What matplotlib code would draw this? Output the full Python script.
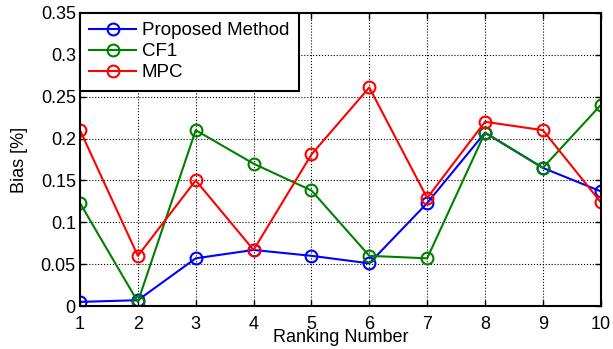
import numpy as np
import matplotlib.pyplot as plt

plt.rcParams['font.family'] = ['Liberation Sans', 'DejaVu Sans']

# ranking numbers and bias values
ranking = np.arange(1, 11)
proposed = [0.005, 0.007, 0.057, 0.067, 0.060, 0.051, 0.123, 0.207, 0.165, 0.137]
cf1 = [0.123, 0.005, 0.210, 0.170, 0.138, 0.060, 0.057, 0.207, 0.165, 0.240]
mpc = [0.210, 0.060, 0.150, 0.067, 0.181, 0.261, 0.129, 0.220, 0.210, 0.124]

fig = plt.figure(figsize=(6.13, 3.49), dpi=100)
ax = fig.add_axes([0.1305, 0.123, 0.8495, 0.840])

style = dict(marker='o', markerfacecolor='none', markersize=8.5, markeredgewidth=1.5, linewidth=1.5)
ax.plot(ranking, proposed, color='#0000ff', label='Proposed Method', **style)
ax.plot(ranking, cf1, color='#008000', label='CF1', **style)
ax.plot(ranking, mpc, color='#ff0000', label='MPC', **style)

ax.set_xlim(1, 10)
ax.set_ylim(0, 0.35)
ax.set_xticks(ranking)
ax.set_yticks(np.arange(0, 0.351, 0.05))
ax.set_yticklabels(['0', '0.05', '0.1', '0.15', '0.2', '0.25', '0.3', '0.35'])
ax.grid(True, color='black', linestyle=':', linewidth=0.8)
ax.tick_params(direction='in', top=True, right=True, labelsize=13, length=4, width=1, pad=3)
ax.tick_params(axis='x', pad=7)
for sp in ax.spines.values():
    sp.set_linewidth(1.5)
ax.set_xlabel('Ranking Number', fontsize=13, labelpad=-3)
ax.set_ylabel('Bias [%]', fontsize=13, labelpad=9)

leg = ax.legend(loc='upper left', fontsize=13.5, fancybox=False, framealpha=1,
                edgecolor='black', borderaxespad=0, handlelength=2.5,
                borderpad=0.5, labelspacing=0.2, handletextpad=0.3)
leg.get_frame().set_linewidth(1.5)

fig.savefig('out.png', dpi=100)
